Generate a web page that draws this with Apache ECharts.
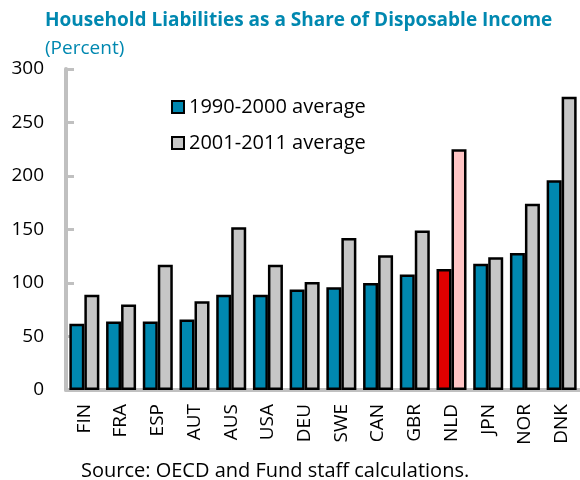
<!DOCTYPE html>
<html>
<head>
<meta charset="utf-8">
<script src="https://cdn.jsdelivr.net/npm/echarts@6/dist/echarts.min.js"></script>
<style>
    html, body { margin: 0; padding: 0; background: #fff; }
    #chart { width: 580px; height: 480px; }
</style>
</head>
<body>
<div id="chart"></div>
<script>
// 国家 / 数值
var countries = ['FIN', 'FRA', 'ESP', 'AUT', 'AUS', 'USA', 'DEU', 'SWE', 'CAN', 'GBR', 'NLD', 'JPN', 'NOR', 'DNK'];
var avg1990 = [62, 64, 64, 66, 89, 89, 94, 96, 100, 108, 113, 118, 128, 196];
var avg2001 = [89, 80, 117, 83, 152, 117, 101, 142, 126, 149, 225, 124, 174, 274];
var yTicks = [0, 50, 100, 150, 200, 250, 300];
var highlight = 'NLD';

var teal = '#0088b0';
var grey = '#c6c6c6';
var axisGrey = '#c0c0c0';
var font = 'Open Sans';

function buildData(values, hiColor) {
    return values.map(function (v, i) {
        if (countries[i] === highlight) {
            return { value: v, itemStyle: { color: hiColor } };
        }
        return v;
    });
}

var chart = echarts.init(document.getElementById('chart'));
var option = {
    animation: false,
    title: [{
        text: 'Household Liabilities as a Share of Disposable Income',
        left: 40,
        top: 6,
        textStyle: { color: teal, fontFamily: font, fontWeight: 'bold', fontSize: 19 }
    }, {
        text: '(Percent)',
        left: 40,
        top: 34,
        textStyle: { color: teal, fontFamily: font, fontWeight: 'normal', fontSize: 19 }
    }, {
        text: 'Source: OECD and Fund staff calculations.',
        left: 76,
        top: 456,
        textStyle: { color: '#000', fontFamily: font, fontWeight: 'normal', fontSize: 20 }
    }],
    legend: {
        orient: 'vertical',
        left: 166,
        top: 92,
        icon: 'rect',
        itemWidth: 12,
        itemHeight: 12,
        itemGap: 16,
        textStyle: { fontFamily: font, fontSize: 20, color: '#000' },
        data: [
            { name: '1990-2000 average', itemStyle: { color: teal, borderColor: '#000', borderWidth: 2 } },
            { name: '2001-2011 average', itemStyle: { color: grey, borderColor: '#000', borderWidth: 2 } }
        ]
    },
    grid: {
        left: 66,
        top: 69,
        bottom: 90,
        width: 521
    },
    xAxis: {
        type: 'category',
        data: countries,
        axisLine: { lineStyle: { color: axisGrey, width: 4 } },
        axisTick: { show: false },
        axisLabel: {
            rotate: 90,
            margin: 14,
            color: '#000',
            fontFamily: font,
            fontSize: 19
        }
    },
    yAxis: {
        type: 'value',
        min: yTicks[0],
        max: yTicks[yTicks.length - 1],
        interval: 50,
        splitLine: { show: false },
        axisLine: { show: true, lineStyle: { color: axisGrey, width: 4 } },
        axisTick: { show: true, inside: true, length: 8, lineStyle: { color: axisGrey, width: 3 } },
        axisLabel: {
            margin: 22,
            color: '#000',
            fontFamily: font,
            fontSize: 19
        }
    },
    series: [{
        name: '1990-2000 average',
        type: 'bar',
        barWidth: 15,
        barGap: '0%',
        itemStyle: { color: teal, borderColor: '#000', borderWidth: 2.5 },
        data: buildData(avg1990, '#e00000')
    }, {
        name: '2001-2011 average',
        type: 'bar',
        barWidth: 15,
        itemStyle: { color: grey, borderColor: '#000', borderWidth: 2.5 },
        data: buildData(avg2001, '#ffc4c4')
    }]
};
chart.setOption(option);
</script>
</body>
</html>
